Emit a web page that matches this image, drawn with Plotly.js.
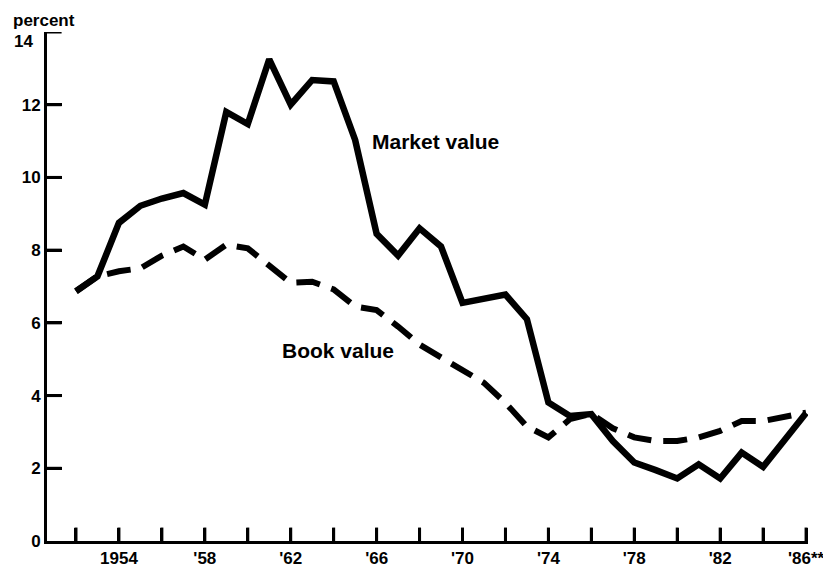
<!DOCTYPE html>
<html>
<head>
<meta charset="utf-8">
<script src="https://cdn.plot.ly/plotly-3.0.1.min.js"></script>
<style>
  html, body { margin: 0; padding: 0; background: #fff; }
  #chart { width: 823px; height: 571px; }
</style>
</head>
<body>
<div id="chart"></div>
<script>
// Years (annual data)
const years = [1952,1953,1954,1955,1956,1957,1958,1959,1960,1961,1962,1963,1964,1965,1966,1967,1968,1969,
               1970,1971,1972,1973,1974,1975,1976,1977,1978,1979,1980,1981,1982,1983,1984,1985,1986];

// Market value (percent)
const marketValue = [6.87,7.28,8.75,9.22,9.42,9.57,9.25,11.8,11.47,13.25,12.0,12.68,12.64,11.03,8.45,7.85,8.6,8.1,
                     6.55,6.66,6.78,6.1,3.81,3.44,3.49,2.75,2.16,1.95,1.72,2.11,1.72,2.43,2.04,2.78,3.52];

// Book value (percent)
const bookValue = [6.87,7.28,7.42,7.5,7.85,8.1,7.74,8.15,8.05,7.6,7.1,7.13,6.92,6.45,6.35,5.9,5.4,5.05,
                   4.7,4.35,3.8,3.15,2.85,3.35,3.5,3.1,2.85,2.75,2.75,2.85,3.03,3.3,3.3,3.4,3.53];

// Axis ticks
const xTickVals = [1952,1954,1956,1958,1960,1962,1964,1966,1968,1970,1972,1974,1976,1978,1980,1982,1984,1986];
const xTickText = ["","1954","","'58","","'62","","'66","","'70","","'74","","'78","","'82","","'86**"];
const yTickVals = [0,2,4,6,8,10,12,14];
const yTickText = ["0","2","4","6","8","10","12",""];
const yTopLabel = "14";

const X_RANGE = [1950.65, 1986.09];
const Y_RANGE = [0, 14];
const FONT = "Liberation Sans, Arial, Helvetica, sans-serif";

// Inward tick marks also drawn through the axes' own scales (covers the end ticks Plotly drops)
const X_TICK_LEN = 0.37;   // in y units (~13 px)
const Y_TICK_LEN = 0.68;   // in x units (~15 px)
const xtX = [], xtY = [];
xTickVals.forEach(v => { xtX.push(v, v, null); xtY.push(Y_RANGE[0], Y_RANGE[0] + X_TICK_LEN, null); });
const ytX = [], ytY = [];
yTickVals.filter(v => v > Y_RANGE[0]).forEach(v => { ytX.push(X_RANGE[0], X_RANGE[0] + Y_TICK_LEN, null); ytY.push(v, v, null); });

const traces = [
  {
    x: years, y: bookValue, type: "scatter", mode: "lines", name: "Book value",
    line: { color: "#000", width: 6, dash: "24px,12px" }, hoverinfo: "skip"
  },
  {
    x: years, y: marketValue, type: "scatter", mode: "lines", name: "Market value",
    line: { color: "#000", width: 6.5 }, hoverinfo: "skip"
  },
  {
    x: xtX, y: xtY, type: "scatter", mode: "lines", connectgaps: false,
    line: { color: "#000", width: 3, simplify: false }, hoverinfo: "skip", showlegend: false
  },
  {
    x: ytX, y: ytY, type: "scatter", mode: "lines", connectgaps: false,
    line: { color: "#000", width: 3, simplify: false }, hoverinfo: "skip", showlegend: false
  }
];

const layout = {
  width: 823, height: 571,
  margin: { l: 47, r: 15, t: 32, b: 30, pad: 0 },
  paper_bgcolor: "#fff", plot_bgcolor: "#fff",
  showlegend: false,
  font: { family: FONT, color: "#000", size: 17 },
  xaxis: {
    range: X_RANGE,
    showgrid: false, zeroline: false,
    showline: true, linecolor: "#000", linewidth: 3,
    ticks: "inside", ticklen: 13, tickwidth: 3, tickcolor: "#000",
    tickmode: "array", tickvals: xTickVals, ticktext: xTickText,
    tickfont: { family: FONT, size: 17, color: "#000", weight: "bold" },
    ticklabeloverflow: "allow"
  },
  yaxis: {
    range: Y_RANGE,
    showgrid: false, zeroline: false,
    showline: true, linecolor: "#000", linewidth: 3,
    ticks: "inside", ticklen: 15, tickwidth: 3, tickcolor: "#000",
    tickmode: "array", tickvals: yTickVals, ticktext: yTickText,
    tickfont: { family: FONT, size: 17, color: "#000", weight: "bold" },
    ticklabeloverflow: "allow"
  },
  annotations: [
    { text: "percent", xref: "paper", yref: "paper", x: -0.047, y: 1.0, yshift: 12,
      xanchor: "left", yanchor: "middle", showarrow: false,
      font: { family: FONT, size: 17, color: "#000", weight: "bold" } },
    { text: yTopLabel, xref: "paper", yref: "y", x: -0.016, y: 14, yshift: -9,
      xanchor: "right", yanchor: "middle", showarrow: false,
      font: { family: FONT, size: 17, color: "#000", weight: "bold" } },
    { text: "Market value", xref: "x", yref: "y", x: 1968.72, y: 11.0,
      xanchor: "center", yanchor: "middle", showarrow: false,
      font: { family: FONT, size: 21, color: "#000", weight: "bold" } },
    { text: "Book value", xref: "x", yref: "y", x: 1964.2, y: 5.25,
      xanchor: "center", yanchor: "middle", showarrow: false,
      font: { family: FONT, size: 21, color: "#000", weight: "bold" } }
  ]
};

Plotly.newPlot("chart", traces, layout, { staticPlot: true, displayModeBar: false });
</script>
</body>
</html>
